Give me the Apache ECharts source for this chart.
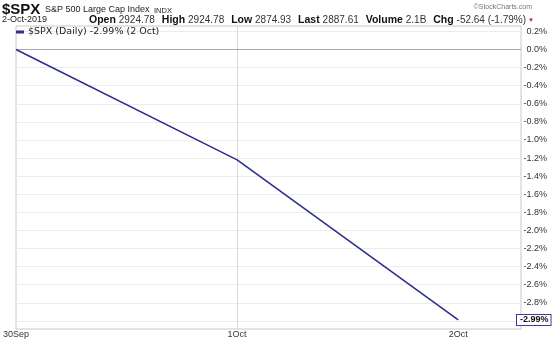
<!DOCTYPE html>
<html>
<head>
<meta charset="utf-8">
<script src="https://cdn.jsdelivr.net/npm/echarts@6/dist/echarts.min.js"></script>
<style>
html,body{margin:0;padding:0;background:#fff;}
#c{width:560px;height:341px;}
</style>
</head>
<body>
<div id="c"></div>
<script>
// ---- data ----
var xLabels = ['30Sep', '1Oct', '2Oct'];
var xPositions = [0, 1, 2];
var pctChange = [0.0, -1.22, -2.99];
var yTickValues = [0.2, 0.0, -0.2, -0.4, -0.6, -0.8, -1.0, -1.2, -1.4, -1.6, -1.8, -2.0, -2.2, -2.4, -2.6, -2.8, -3.0];
var yLabelValues = [0.2, 0.0, -0.2, -0.4, -0.6, -0.8, -1.0, -1.2, -1.4, -1.6, -1.8, -2.0, -2.2, -2.4, -2.6, -2.8];
var seriesName = '$SPX (Daily)';
var lastDateLabel = '2 Oct';
var quote = { date: '2-Oct-2019', open: '2924.78', high: '2924.78', low: '2874.93', last: '2887.61', volume: '2.1B', chg: '-52.64', chgPct: '(-1.79%)' };

var lineData = xPositions.map(function (x, i) { return [x, pctChange[i]]; });
var lastVal = pctChange[pctChange.length - 1];

var chart = echarts.init(document.getElementById('c'), null, { renderer: 'canvas' });
var font = 'Liberation Sans, Arial, sans-serif';

chart.setOption({
  animation: false,
  backgroundColor: '#fff',
  title: [
    {
      left: 2, top: 2, padding: 0,
      text: '$SPX',
      textStyle: { fontFamily: font, fontWeight: 'bold', fontSize: 15, color: '#111', lineHeight: 15 }
    },
    {
      left: 45, top: 4, padding: 0,
      text: 'S&P 500 Large Cap Index',
      textStyle: { fontFamily: font, fontWeight: 'normal', fontSize: 9, color: '#222', lineHeight: 12 }
    },
    {
      left: 154, top: 6, padding: 0,
      text: 'INDX',
      textStyle: { fontFamily: font, fontWeight: 'normal', fontSize: 7.5, color: '#222', lineHeight: 10 }
    },
    {
      left: 2, top: 15, padding: 0,
      text: quote.date,
      textStyle: { fontFamily: font, fontSize: 9, fontWeight: 'normal', color: '#222', lineHeight: 10 }
    },
    {
      left: 89, top: 15, padding: 0,
      text: '{k|Open} {v|' + quote.open + '} {g|High} {v|' + quote.high + '} {g|Low} {v|' + quote.low + '} {g|Last} {v|' + quote.last + '} {g|Volume} {v|' + quote.volume + '} {g|Chg} {v|' + quote.chg + ' ' + quote.chgPct + '}{r|▼}',
      textStyle: {
        fontFamily: font, fontWeight: 'normal', fontSize: 10.5, lineHeight: 10,
        rich: {
          k: { fontFamily: font, fontWeight: 'bold', fontSize: 10.5, color: '#111', lineHeight: 10 },
          g: { fontFamily: font, fontWeight: 'bold', fontSize: 10.5, color: '#111', lineHeight: 10, padding: [0, 0, 0, 4] },
          v: { fontFamily: font, fontWeight: 'normal', fontSize: 10, color: '#333', lineHeight: 10 },
          r: { fontFamily: font, fontWeight: 'normal', fontSize: 6, color: '#cc1133', lineHeight: 10, padding: [0, 0, 0, 2] }
        }
      }
    },
    {
      right: 28, top: 4, padding: 0,
      text: '©StockCharts.com',
      textStyle: { fontFamily: font, fontSize: 7, fontWeight: 'normal', color: '#777' }
    }
  ],
  legend: {
    left: 16, top: 27, padding: 0,
    icon: 'rect', itemWidth: 8, itemHeight: 3, itemGap: 4,
    formatter: function (n) { return n + ' ' + lastVal.toFixed(2) + '% (' + lastDateLabel + ')'; },
    textStyle: { fontFamily: 'DejaVu Sans, Verdana, sans-serif', fontSize: 9.5, color: '#222', padding: [0, 0, 0, -1] },
    data: [seriesName]
  },
  grid: {
    left: 14, right: 39, top: 26, bottom: 12,
    show: true, borderColor: '#c8c8c8', borderWidth: 1, backgroundColor: '#fff'
  },
  xAxis: {
    type: 'value', min: 0, max: 2.284, interval: 1,
    axisLine: { show: false }, axisTick: { show: false },
    splitLine: { show: true, lineStyle: { color: ['rgba(0,0,0,0)', '#d8d8d8', 'rgba(0,0,0,0)'], width: 1 } },
    axisLabel: {
      showMaxLabel: false, margin: 1,
      fontFamily: font, fontSize: 9, color: '#333',
      formatter: function (v) { var i = xPositions.indexOf(v); return i >= 0 ? xLabels[i] : ''; }
    }
  },
  yAxis: {
    type: 'value', position: 'right', min: -3.09, max: 0.26,
    axisLine: { show: false },
    axisTick: { show: false, customValues: yTickValues },
    splitLine: { show: true, lineStyle: { color: '#ececec', width: 1 } },
    axisLabel: {
      customValues: yLabelValues,
      margin: 26, align: 'right',
      fontFamily: font, fontSize: 9, color: '#333',
      formatter: function (v) { return v.toFixed(1) + '%'; }
    }
  },
  series: [{
    name: seriesName,
    type: 'line',
    data: lineData,
    symbol: 'none',
    lineStyle: { color: '#2e2e8e', width: 1.6 },
    itemStyle: { color: '#2e2e8e' },
    markLine: {
      silent: true, symbol: 'none',
      lineStyle: { color: 'rgba(0,0,0,0)', width: 0 },
      label: {
        show: true,
        position: 'end', distance: -4,
        formatter: function () { return lastVal.toFixed(2) + '%'; },
        fontFamily: font, fontSize: 9, fontWeight: 'bold', color: '#111',
        backgroundColor: '#fff', borderColor: '#3a3aa0', borderWidth: 1, padding: [1, 2, 0, 3]
      },
      data: [{ yAxis: lastVal }]
    },
    z: 5
  }, {
    type: 'line', silent: true, symbol: 'none',
    data: [[0, 0], [2.284, 0]],
    lineStyle: { color: '#a8a8a8', width: 1 }, z: 2
  }]
});
</script>
</body>
</html>
